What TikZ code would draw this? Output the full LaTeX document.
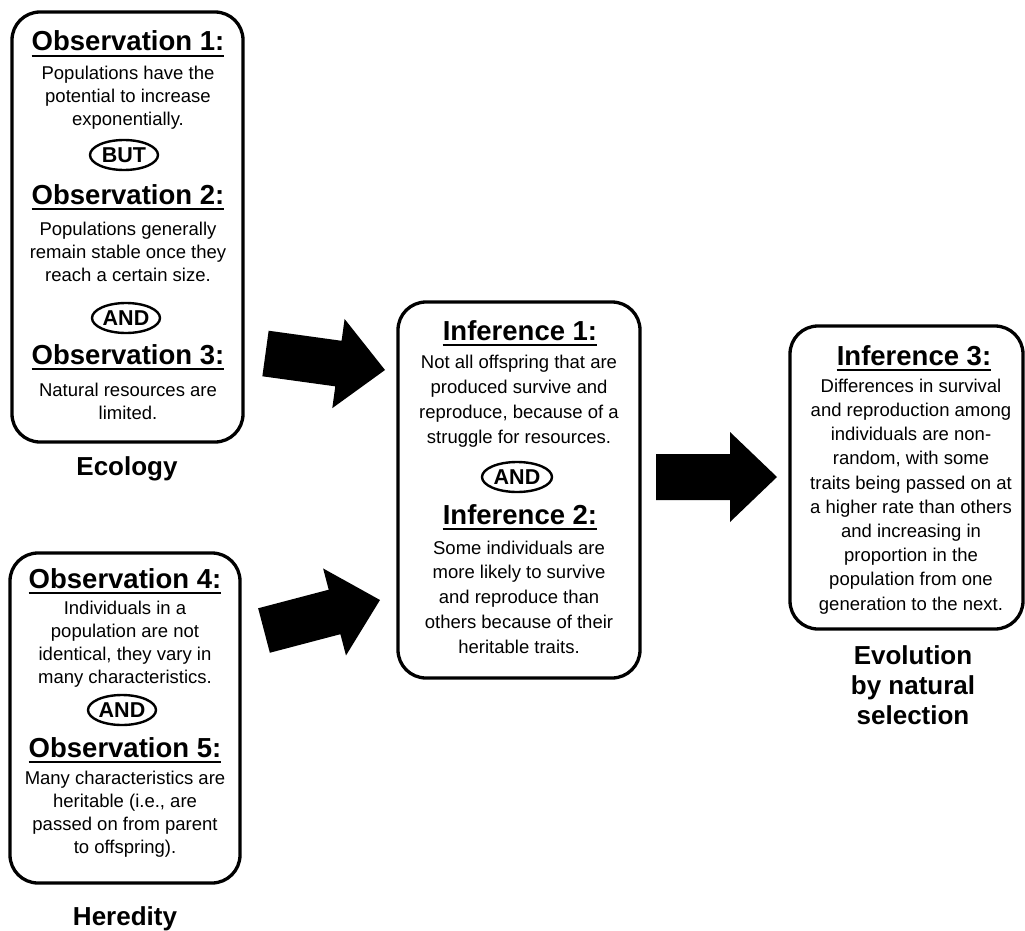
\documentclass[tikz,border=0pt]{standalone}
\usepackage{fontspec}
\setmainfont{Liberation Sans}
\usetikzlibrary{shapes.geometric,calc}
\newcommand\fatarrow[2]{%
  \coordinate (hb) at ($(#2)!47pt!(#1)$);
  \fill ($(#1)!23pt!90:(#2)$) -- ($(hb)!23pt!90:(#2)$) -- ($(hb)!45pt!90:(#2)$)
     -- (#2) -- ($(hb)!45pt!-90:(#2)$) -- ($(hb)!23pt!-90:(#2)$) -- ($(#1)!23pt!-90:(#2)$) -- cycle;}
\newcommand\titlerule[1]{\draw[uline] ([yshift=-5pt]#1.base west) -- ([yshift=-5pt]#1.base east);}
\tikzset{
  box/.style={draw, line width=3.3pt, rounded corners=28pt, inner sep=0pt},
  ttl/.style={font=\fontsize{27.5}{30}\selectfont\bfseries, anchor=base, inner sep=0pt},
  body/.style={font=\fontsize{18.5}{23}\selectfont, align=center, anchor=base, inner sep=0pt},
  conj/.style={draw, ellipse, line width=2.4pt, minimum width=68pt, minimum height=30pt, inner sep=0pt, font=\fontsize{21.5}{21.5}\selectfont\bfseries},
  lbl/.style={font=\fontsize{26}{30}\selectfont\bfseries, align=center, anchor=base, inner sep=0pt},
  uline/.style={line width=2.8pt}
}
\begin{document}
\begin{tikzpicture}[x=1pt,y=-1pt]
\path[use as bounding box] (0,0) rectangle (1025,931);
% (multi-line nodes: base anchor = baseline of last line)
% Box 1: Ecology
\node[box, minimum width=231pt, minimum height=430pt] (eco) at (127.5,227) {};
\node[ttl] (o1) at (128,51) {Observation 1:}; \titlerule{o1}
\node[body] (p1) at (128,126) {Populations have the\\potential to increase\\exponentially.};
\node[conj] (but) at (124,155) {BUT};
\node[ttl] (o2) at (128,204) {Observation 2:}; \titlerule{o2}
\node[body] (p2) at (128,281) {Populations generally\\remain stable once they\\reach a certain size.};
\node[conj] (and1) at (126,318) {AND};
\node[ttl] (o3) at (128,364) {Observation 3:}; \titlerule{o3}
\node[body] (p3) at (128,419) {Natural resources are\\limited.};
\node[lbl] (ecolbl) at (127,475) {Ecology};
% Box 2: Heredity
\node[box, minimum width=230pt, minimum height=330pt] (her) at (125,718) {};
\node[ttl] (o4) at (125,588) {Observation 4:}; \titlerule{o4}
\node[body] (p4) at (125,683) {Individuals in a\\population are not\\identical, they vary in\\many characteristics.};
\node[conj] (and2) at (122,710) {AND};
\node[ttl] (o5) at (125,757) {Observation 5:}; \titlerule{o5}
\node[body] (p5) at (125,853) {Many characteristics are\\heritable (i.e., are\\passed on from parent\\to offspring).};
\node[lbl] (herlbl) at (125,925) {Heredity};
% Box 3: Inferences 1 and 2
\node[box, minimum width=242pt, minimum height=376pt] (inf) at (519,490) {};
\node[ttl] (i1) at (520,340) {Inference 1:}; \titlerule{i1}
\node[body, font=\fontsize{18.5}{25}\selectfont] (q1) at (519,443) {Not all offspring that are\\produced survive and\\reproduce, because of a\\struggle for resources.};
\node[conj, minimum width=70pt] (and3) at (517,477) {AND};
\node[ttl] (i2) at (520,524) {Inference 2:}; \titlerule{i2}
\node[body, font=\fontsize{18.5}{24.75}\selectfont] (q2) at (519,653) {Some individuals are\\more likely to survive\\and reproduce than\\others because of their\\heritable traits.};
% Box 4: Inference 3
\node[box, minimum width=233pt, minimum height=303pt] (sel) at (906.5,477.5) {};
\node[ttl] (i3) at (914,365) {Inference 3:}; \titlerule{i3}
\node[body, font=\fontsize{18.5}{24.2}\selectfont] (q3) at (911,610) {Differences in survival\\and reproduction among\\individuals are non-\\random, with some\\traits being passed on at\\a higher rate than others\\and increasing in\\proportion in the\\population from one\\generation to the next.};
\node[lbl] (evolbl) at (913,724) {Evolution\\by natural\\selection};
% Block arrows
\coordinate (a1s) at (265.5,353.5); \coordinate (a1e) at (385,370);
\coordinate (a2s) at (264,630.5);   \coordinate (a2e) at (380,600);
\coordinate (a3s) at (656,477);     \coordinate (a3e) at (777,477);
\fatarrow{a1s}{a1e}
\fatarrow{a2s}{a2e}
\fatarrow{a3s}{a3e}
\end{tikzpicture}
\end{document}
